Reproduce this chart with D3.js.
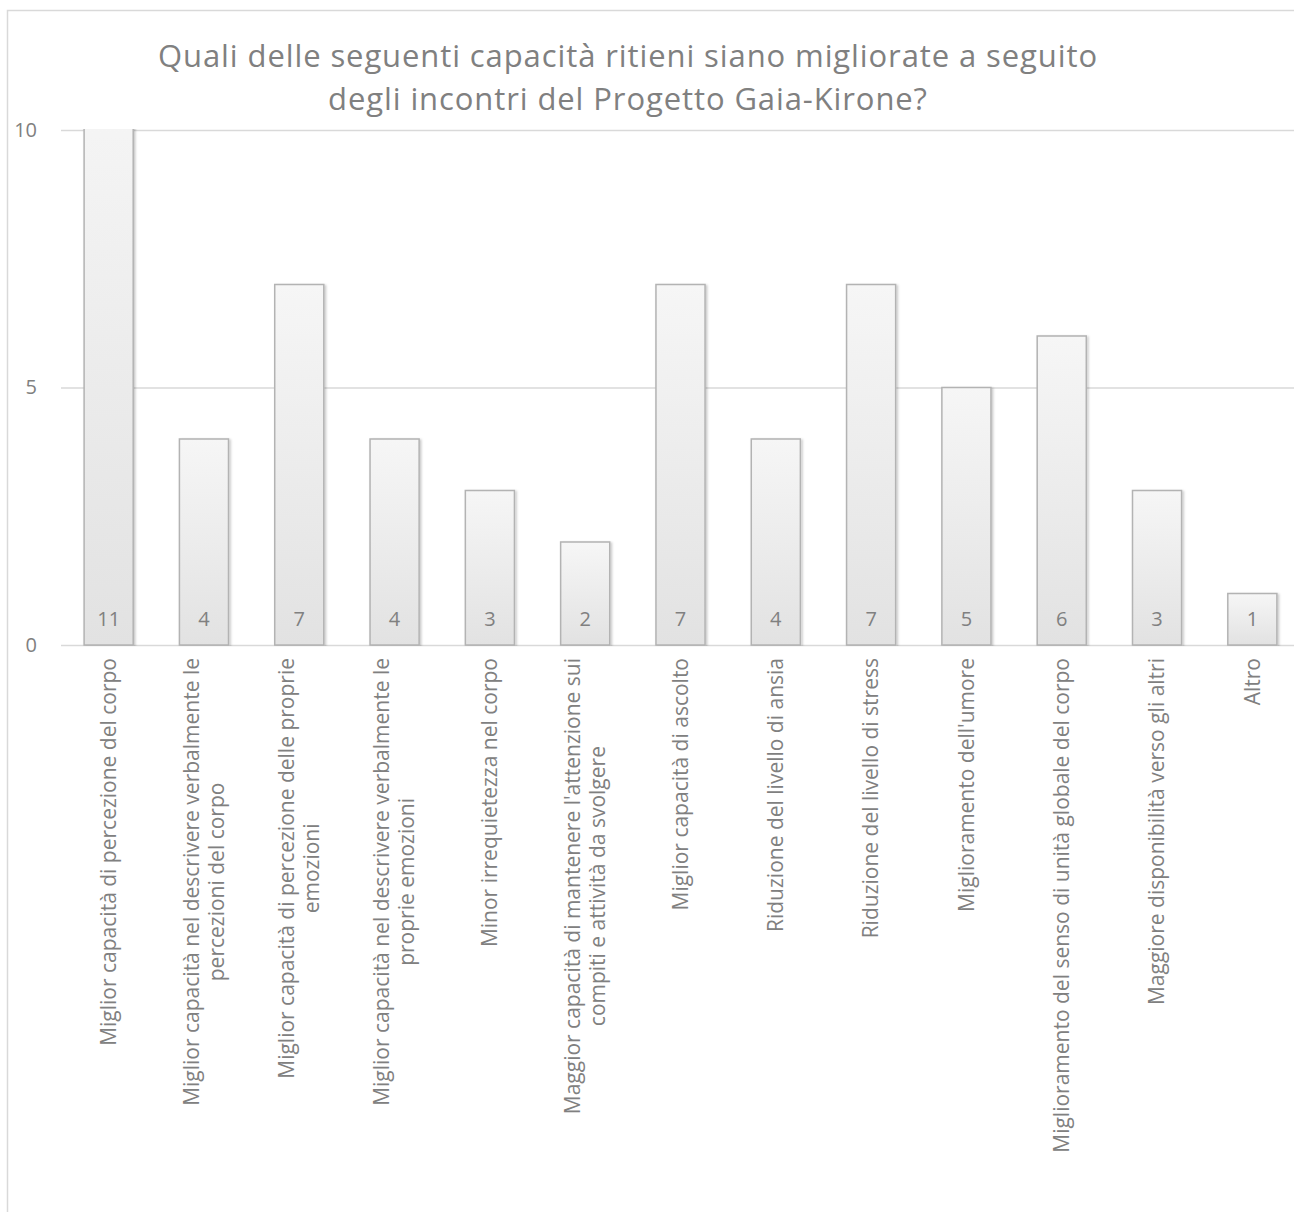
<!DOCTYPE html>
<html>
<head>
<meta charset="utf-8">
<script src="https://cdn.jsdelivr.net/npm/d3@7"></script>
<style>
  html, body { margin: 0; padding: 0; background: #ffffff; }
  svg { display: block; }
</style>
</head>
<body>
<svg id="chart" width="1294" height="1212"></svg>
<script>
// Survey answers: number of respondents per improved ability
const categories = [
  "Miglior capacità di percezione del corpo",
  "Miglior capacità nel descrivere verbalmente le\npercezioni del corpo",
  "Miglior capacità di percezione delle proprie\nemozioni",
  "Miglior capacità nel descrivere verbalmente le\nproprie emozioni",
  "Minor irrequietezza nel corpo",
  "Maggior capacità di mantenere l'attenzione sui\ncompiti e attività da svolgere",
  "Miglior capacità di ascolto",
  "Riduzione del livello di ansia",
  "Riduzione del livello di stress",
  "Miglioramento dell'umore",
  "Miglioramento del senso di unità globale del corpo",
  "Maggiore disponibilità verso gli altri",
  "Altro"
];
const values = [11, 4, 7, 4, 3, 2, 7, 4, 7, 5, 6, 3, 1];
const yTicks = [0, 5, 10];
const titleLines = [
  "Quali delle seguenti capacità ritieni siano migliorate a seguito",
  "degli incontri del Progetto Gaia-Kirone?"
];

const FONT = "'Open Sans', 'DejaVu Sans', sans-serif";
const TEXT = "#808080";
const GRID = "#d9d9d9";

const svg = d3.select("#chart");
const defs = svg.append("defs");

const grad = defs.append("linearGradient")
  .attr("id", "barFill").attr("x1", 0).attr("y1", 0).attr("x2", 0).attr("y2", 1);
grad.append("stop").attr("offset", "0%").attr("stop-color", "#f6f6f6");
grad.append("stop").attr("offset", "100%").attr("stop-color", "#e2e2e2");

const shadow = defs.append("filter").attr("id", "barShadow")
  .attr("x", "-20%").attr("y", "-5%").attr("width", "140%").attr("height", "110%");
shadow.append("feDropShadow")
  .attr("dx", 1.5).attr("dy", 1).attr("stdDeviation", 1.2)
  .attr("flood-color", "#000").attr("flood-opacity", 0.22);

const plot = { left: 61, right: 1300, top: 130, bottom: 645 };

defs.append("clipPath").attr("id", "plotClip")
  .append("rect")
  .attr("x", plot.left).attr("y", plot.top - 1)
  .attr("width", plot.right - plot.left).attr("height", plot.bottom - plot.top + 2);

// Chart area frame
svg.append("rect")
  .attr("x", 7.5).attr("y", 10.5)
  .attr("width", 1400).attr("height", 1400)
  .attr("fill", "none").attr("stroke", GRID).attr("stroke-width", 1.5);

// Title, two centred lines
svg.append("g").selectAll("text").data(titleLines).join("text")
  .attr("x", 628)
  .attr("y", (d, i) => 67 + i * 42.5)
  .attr("text-anchor", "middle")
  .attr("font-family", FONT).attr("font-size", 31)
  .attr("letter-spacing", 0.9)
  .attr("fill", TEXT)
  .text(d => d);

const x = d3.scaleBand()
  .domain(categories)
  .range([plot.left, plot.right])
  .paddingInner(0.485)
  .paddingOuter(0.2425);

const y = d3.scaleLinear().domain([0, 10]).range([plot.bottom, plot.top]);

// Gridlines + y labels
const yAxis = d3.axisLeft(y).tickValues(yTicks)
  .tickSize(-(plot.right - plot.left)).tickPadding(24).tickFormat(d3.format("d"));
const gy = svg.append("g").attr("transform", `translate(${plot.left},0)`).call(yAxis);
gy.select(".domain").remove();
gy.selectAll(".tick line").attr("stroke", GRID).attr("stroke-width", 1.5);
gy.selectAll(".tick text")
  .attr("font-family", FONT).attr("font-size", 20).attr("fill", TEXT);

// Bars
svg.append("g").attr("clip-path", "url(#plotClip)")
  .selectAll("rect").data(values).join("rect")
  .attr("x", (d, i) => x(categories[i]))
  .attr("y", d => y(d))
  .attr("width", x.bandwidth())
  .attr("height", d => y(0) - y(d))
  .attr("fill", "url(#barFill)")
  .attr("stroke", "#b3b3b3").attr("stroke-width", 1.5)
  .attr("filter", "url(#barShadow)");

// Value labels near the base of each bar
svg.append("g").selectAll("text").data(values).join("text")
  .attr("x", (d, i) => x(categories[i]) + x.bandwidth() / 2)
  .attr("y", plot.bottom - 19)
  .attr("text-anchor", "middle")
  .attr("font-family", FONT).attr("font-size", 20).attr("fill", TEXT)
  .text(d => d);

// Rotated category labels
const labelTop = 658;
const lineGap = 25;
const lab = svg.append("g").selectAll("g").data(categories).join("g")
  .attr("transform", (d, i) => `translate(${x(d) + x.bandwidth() / 2},0)`);

lab.each(function (d) {
  const g = d3.select(this);
  const lines = d.split("\n");
  const n = lines.length;
  const texts = g.selectAll("text").data(lines).join("text")
    .attr("font-family", FONT).attr("font-size", 21).attr("fill", TEXT)
    .attr("dy", "0.35em")
    .text(t => t);
  let maxLen = 0;
  texts.each(function () { maxLen = Math.max(maxLen, this.getComputedTextLength()); });
  texts
    .attr("text-anchor", "middle")
    .attr("transform", (t, i) =>
      `translate(${(i - (n - 1) / 2) * lineGap},${labelTop + maxLen / 2}) rotate(-90)`);
});
</script>
</body>
</html>
